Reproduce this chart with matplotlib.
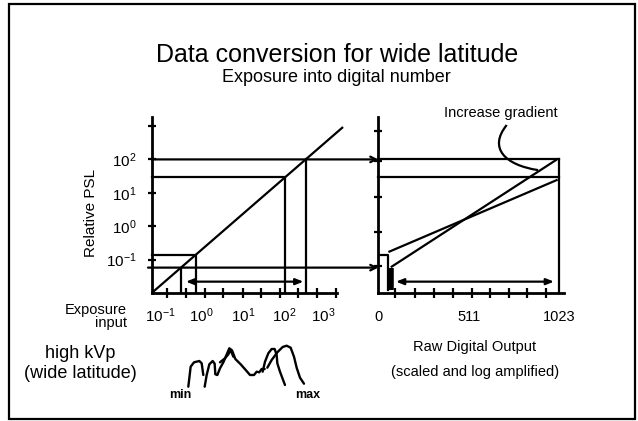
import numpy as np
import matplotlib
matplotlib.use("Agg")
import matplotlib.pyplot as plt
from matplotlib.patches import ConnectionPatch, Rectangle, PathPatch
from matplotlib.path import Path
from matplotlib.ticker import NullFormatter, NullLocator

plt.rcParams['font.family'] = ['Liberation Sans', 'DejaVu Sans']
plt.rcParams['mathtext.fontset'] = 'custom'
plt.rcParams['mathtext.rm'] = 'Liberation Sans'
plt.rcParams['mathtext.it'] = 'Liberation Sans:italic'
plt.rcParams['mathtext.bf'] = 'Liberation Sans:bold'

# ---------------- data ----------------
# left panel: exposure (log10) vs relative PSL (log10), linear response y = x
exp_label_pos = [-1.78, -0.72, 0.37, 1.44, 2.45]
exp_labels = [r'$\mathregular{10^{-1}}$', r'$\mathregular{10^{0}}$', r'$\mathregular{10^{1}}$',
              r'$\mathregular{10^{2}}$', r'$\mathregular{10^{3}}$']
exp_minor_ticks = [-1.61, -1.11, -0.62, -0.14, 0.36, 0.83, 1.33, 1.81, 2.29, 2.79]
psl_ticks = [-1, 0, 1, 2, 3]
psl_labels = [r'$\mathregular{10^{-1}}$', r'$\mathregular{10^{0}}$', r'$\mathregular{10^{1}}$',
              r'$\mathregular{10^{2}}$', '']
response_end = 2.97           # log10 end of the linear response line
lvl_max = 2.0                 # PSL levels (log10)
lvl_hi = 1.46
lvl_box = -0.86
lvl_min = -1.24
range_arrow_level = -1.66
exp_range = [-1.11, 1.94]     # exposure latitude arrow (log10)

# right panel: raw digital output 0..1023
dig_ticks = [0, 511, 1023]
dig_minor = [94, 207, 315, 420, 528, 631, 739, 839, 946]
psl_minor_right = [2.85, 1.96, 0.87, -0.16, -1.19]
steep_x = [76, 1004]
steep_logy = [-1.21, 1.98]
shallow_x = [63, 1008]
shallow_logy = [-0.76, 1.38]
box_x = 56
thick_x = 72
thick_top = -1.26
box_bottom = -1.91
dig_range = [100, 993]
leader_x = [726, 620, 716, 903]
leader_logy = [3.03, 2.34, 1.83, 1.68]

# histogram sketch (log10 exposure, relative count)
hist_strokes = [
    ([-1.049, -0.988, -0.901, -0.763, -0.702, -0.659],
     [8.3, 28.3, 32.7, 34.0, 31.7, 20.0]),
    ([-0.624, -0.572, -0.503, -0.416, -0.365, -0.347, -0.295, -0.226, -0.139, -0.036, 0.016,
      0.086, 0.172, 0.311, 0.449, 0.553, 0.657, 0.726, 0.795, 0.856, 0.934],
     [8.3, 20.0, 30.7, 34.0, 31.3, 20.7, 20.0, 26.7, 32.7, 42.0, 46.7,
      44.7, 36.0, 30.7, 24.7, 20.0, 20.0, 23.3, 22.7, 26.0, 26.0]),
    ([-0.226, -0.096, -0.010, 0.051, 0.120],
     [32.7, 36.7, 40.7, 45.0, 38.3]),
    ([0.882, 0.943, 1.029, 1.116, 1.194, 1.246, 1.263, 1.332, 1.462],
     [23.3, 33.3, 41.7, 46.0, 46.0, 40.0, 31.7, 23.3, 10.0]),
    ([1.003, 1.116, 1.263, 1.402, 1.505, 1.609, 1.696, 1.765, 1.852, 1.956],
     [27.3, 35.0, 42.7, 48.0, 49.3, 47.3, 38.3, 27.3, 17.3, 11.3]),
]
min_pos = -1.265
max_pos = 2.047

# ---------------- figure ----------------
W, H = 638, 421
fig = plt.figure(figsize=(W / 100, H / 100), dpi=100)
fig.patch.set_facecolor('white')


def add_px_axes(x0, y0, x1, y1):
    return fig.add_axes([x0 / W, 1 - y1 / H, (x1 - x0) / W, (y1 - y0) / H])


def fx(px):
    return px / W


def fy(py):
    return 1 - py / H


LW = 1.6
SPINE_LW = 2.0
XLIM_L = (10 ** -2, 10 ** 2.813)
YLIM = (10 ** -2, 10 ** 3.27)

# border
fig.add_artist(Rectangle((fx(9), fy(419)), fx(635) - fx(9), fy(4) - fy(419),
                         transform=fig.transFigure, fill=False, lw=1.6, ec='black'))

# ---------- left axes ----------
axL = add_px_axes(151.7, 117, 337, 293)
axL.set_xscale('log')
axL.set_yscale('log')
axL.set_xlim(*XLIM_L)
axL.set_ylim(*YLIM)
axL.patch.set_alpha(0)
for s in ['top', 'right']:
    axL.spines[s].set_visible(False)
for s in ['left', 'bottom']:
    axL.spines[s].set_linewidth(SPINE_LW)

axL.set_yticks([10.0 ** v for v in psl_ticks], labels=psl_labels)
axL.yaxis.set_minor_locator(NullLocator())
axL.tick_params(axis='y', which='major', direction='inout', length=6, width=LW, pad=8, labelsize=11)

axL.set_xticks([10.0 ** v for v in exp_label_pos], labels=exp_labels)
axL.set_xticks([10.0 ** v for v in exp_minor_ticks], minor=True)
axL.xaxis.set_minor_formatter(NullFormatter())
axL.tick_params(axis='x', which='major', length=0, pad=10, labelsize=11)
axL.tick_params(axis='x', which='minor', direction='inout', length=7, width=LW)

# response line
axL.plot([XLIM_L[0], 10 ** response_end], [YLIM[0], 10 ** response_end],
         color='black', lw=LW, clip_on=False, solid_capstyle='butt')
# projections from PSL levels to exposure
for lvl in [lvl_hi, lvl_box]:
    axL.plot([XLIM_L[0], 10 ** lvl, 10 ** lvl], [10 ** lvl, 10 ** lvl, YLIM[0]],
             color='black', lw=LW, clip_on=False)
for lvl in [lvl_max, lvl_min]:
    axL.plot([10 ** lvl, 10 ** lvl], [10 ** lvl, YLIM[0]], color='black', lw=LW, clip_on=False)

axL.annotate('', xy=(10 ** exp_range[0], 10 ** range_arrow_level),
             xytext=(10 ** exp_range[1], 10 ** range_arrow_level),
             arrowprops=dict(arrowstyle='<|-|>,head_length=0.45,head_width=0.18',
                             lw=LW, color='black', shrinkA=0, shrinkB=0))

# ---------- right axes ----------
axR = add_px_axes(378.3, 117, 564, 293)
axR.set_yscale('log')
axR.set_xlim(0, 1049.6)
axR.set_ylim(*YLIM)
axR.patch.set_alpha(0)
for s in ['top', 'right']:
    axR.spines[s].set_visible(False)
for s in ['left', 'bottom']:
    axR.spines[s].set_linewidth(SPINE_LW)
axR.set_yticks([10.0 ** v for v in psl_minor_right], labels=[''] * len(psl_minor_right))
axR.yaxis.set_minor_locator(NullLocator())
axR.tick_params(axis='y', which='major', direction='inout', length=6, width=LW)
axR.set_xticks(dig_ticks, labels=[str(v) for v in dig_ticks])
axR.set_xticks(dig_minor, minor=True)
axR.tick_params(axis='x', which='major', length=0, pad=12, labelsize=10.5)
axR.tick_params(axis='x', which='minor', direction='inout', length=7, width=LW)

for lvl in [lvl_max, lvl_hi]:
    axR.plot([0, 1023], [10 ** lvl, 10 ** lvl], color='black', lw=LW, clip_on=False)
axR.plot([1023, 1023], [10 ** lvl_max, YLIM[0]], color='black', lw=LW, clip_on=False)
axR.plot([0, box_x, box_x], [10 ** lvl_box, 10 ** lvl_box, 10 ** box_bottom], color='black', lw=LW)
axR.plot([thick_x, thick_x], [10 ** thick_top, 10 ** box_bottom], color='black', lw=4,
         solid_capstyle='butt')
axR.plot(steep_x, [10 ** v for v in steep_logy], color='black', lw=LW)
axR.plot(shallow_x, [10 ** v for v in shallow_logy], color='black', lw=LW)
axR.annotate('', xy=(dig_range[0], 10 ** range_arrow_level),
             xytext=(dig_range[1], 10 ** range_arrow_level),
             arrowprops=dict(arrowstyle='<|-|>,head_length=0.45,head_width=0.18',
                             lw=LW, color='black', shrinkA=0, shrinkB=0))

# leader curve for "Increase gradient"
verts = [(x, 10 ** y) for x, y in zip(leader_x, leader_logy)]
leader = PathPatch(Path(verts, [Path.MOVETO, Path.CURVE4, Path.CURVE4, Path.CURVE4]),
                   transform=axR.transData, fill=False, lw=LW, ec='black', clip_on=False)
axR.add_patch(leader)
axR.text(694, 10 ** 3.39, 'Increase gradient', ha='center', va='center', fontsize=10.5)

# connections between panels (PSL level -> digitiser)
for lvl, x_start in [(lvl_max, -2.0), (lvl_min, -2.096)]:
    con = ConnectionPatch(xyA=(10 ** x_start, 10 ** lvl), coordsA=axL.transData,
                          xyB=(0, 10 ** lvl), coordsB=axR.transData,
                          arrowstyle='->,head_length=0.4,head_width=0.2',
                          lw=LW, color='black', shrinkA=0, shrinkB=0)
    fig.add_artist(con)

# ---------- histogram sketch ----------
axH = add_px_axes(151.7, 325, 337, 395)
axH.set_xscale('log')
axH.set_xlim(*XLIM_L)
axH.set_ylim(0, 70)
axH.axis('off')
for xs, ys in hist_strokes:
    axH.plot([10 ** v for v in xs], ys, color='black', lw=1.7, solid_joinstyle='round',
             solid_capstyle='round', clip_on=False)
axH.text(10 ** min_pos, 0, 'min', ha='center', va='center', fontsize=9, fontweight='bold')
axH.text(10 ** max_pos, 0, 'max', ha='center', va='center', fontsize=9, fontweight='bold')

# ---------- texts ----------
fig.text(fx(336.7), fy(55), 'Data conversion for wide latitude', ha='center', va='center', fontsize=18)
fig.text(fx(336.7), fy(77), 'Exposure into digital number', ha='center', va='center', fontsize=13)
fig.text(fx(91), fy(213), 'Relative PSL', rotation=90, ha='center', va='center', fontsize=11)
fig.text(fx(127), fy(310), 'Exposure', ha='right', va='center', fontsize=10.5)
fig.text(fx(127), fy(323), 'input', ha='right', va='center', fontsize=10.5)
fig.text(fx(80), fy(354), 'high kVp', ha='center', va='center', fontsize=13)
fig.text(fx(80), fy(374), '(wide latitude)', ha='center', va='center', fontsize=13)
fig.text(fx(475), fy(347), 'Raw Digital Output', ha='center', va='center', fontsize=10.5)
fig.text(fx(475), fy(372), '(scaled and log amplified)', ha='center', va='center', fontsize=10.5)

fig.savefig('out.png', dpi=100)
